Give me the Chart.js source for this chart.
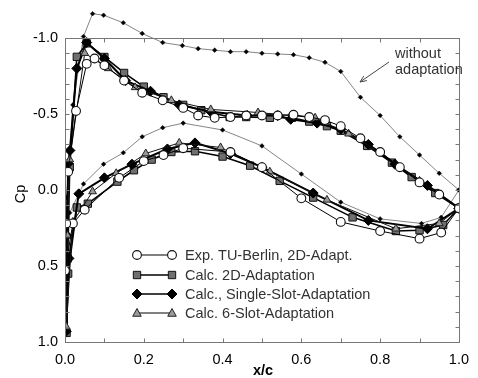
<!DOCTYPE html>
<html lang="en">
<head>
  <meta charset="UTF-8">
  <title>Cp distribution</title>
  <script src="https://cdn.jsdelivr.net/npm/chart.js"></script>
  <style>
    html, body { margin: 0; padding: 0; background: #fff; }
    #wrap { width: 478px; height: 378px; }
  </style>
</head>
<body>
<div id="wrap"><canvas id="cpChart" width="478" height="378"></canvas></div>

<script>
  // x/c and Cp, going TE -> lower side -> LE -> upper side -> TE
  const woX  = [1.0, 0.955, 0.905, 0.80, 0.70, 0.60, 0.50, 0.40, 0.30, 0.248, 0.196, 0.148, 0.098, 0.047, 0.012, 0.001, 0.004, 0.02, 0.047, 0.07, 0.098, 0.148, 0.196, 0.248, 0.298, 0.338, 0.38, 0.42, 0.46, 0.50, 0.54, 0.58, 0.62, 0.66, 0.70, 0.75, 0.80, 0.85, 0.90, 0.95, 1.0];
  const woCp = [0.00, 0.18, 0.22, 0.19, 0.08, -0.105, -0.29, -0.395, -0.44, -0.41, -0.35, -0.245, -0.17, -0.04, 0.15, 0.55, 0.05, -0.56, -1.01, -1.16, -1.15, -1.10, -1.03, -0.97, -0.95, -0.93, -0.92, -0.91, -0.91, -0.90, -0.895, -0.89, -0.87, -0.84, -0.78, -0.61, -0.49, -0.35, -0.23, -0.11, 0.00];

  const expX  = [1.0, 0.955, 0.90, 0.80, 0.70, 0.60, 0.50, 0.42, 0.30, 0.25, 0.20, 0.1375, 0.05, 0.02, 0.0, 0.003, 0.008, 0.028, 0.055, 0.075, 0.10, 0.15, 0.196, 0.248, 0.30, 0.338, 0.38, 0.42, 0.46, 0.50, 0.54, 0.58, 0.62, 0.66, 0.70, 0.75, 0.80, 0.85, 0.90, 0.95, 1.0];
  const expCp = [0.12, 0.28, 0.32, 0.27, 0.21, 0.055, -0.15, -0.25, -0.275, -0.23, -0.19, -0.08, 0.13, 0.22, 0.53, 0.22, -0.12, -0.52, -0.83, -0.865, -0.82, -0.72, -0.64, -0.59, -0.54, -0.49, -0.475, -0.48, -0.49, -0.49, -0.49, -0.495, -0.48, -0.46, -0.42, -0.34, -0.25, -0.15, -0.05, 0.03, 0.12];

  const sqX  = [1.0, 0.96, 0.90, 0.84, 0.73, 0.63, 0.545, 0.47, 0.40, 0.33, 0.27, 0.22, 0.175, 0.133, 0.058, 0.03, 0.008, 0.004, 0.007, 0.012, 0.03, 0.055, 0.10, 0.15, 0.20, 0.25, 0.30, 0.346, 0.418, 0.46, 0.52, 0.576, 0.62, 0.665, 0.70, 0.767, 0.83, 0.88, 0.94, 1.0];
  const sqCp = [0.12, 0.23, 0.265, 0.27, 0.18, 0.05, -0.06, -0.16, -0.22, -0.255, -0.25, -0.20, -0.13, -0.055, 0.09, 0.115, 0.55, 0.94, 0.45, -0.15, -0.876, -0.965, -0.875, -0.77, -0.68, -0.61, -0.56, -0.525, -0.48, -0.48, -0.475, -0.475, -0.45, -0.42, -0.39, -0.29, -0.18, -0.085, 0.02, 0.12];

  const dmX  = [1.0, 0.92, 0.77, 0.63, 0.50, 0.42, 0.33, 0.26, 0.17, 0.10, 0.035, 0.01, 0.003, 0.005, 0.008, 0.0125, 0.03, 0.055, 0.10, 0.154, 0.217, 0.29, 0.37, 0.4625, 0.54, 0.573, 0.64, 0.70, 0.77, 0.8375, 0.92, 1.0];
  const dmCp = [0.12, 0.255, 0.20, 0.02, -0.15, -0.24, -0.31, -0.27, -0.17, -0.08, 0.025, 0.45, 0.93, 0.3, -0.175, -0.26, -0.80, -0.97, -0.865, -0.72, -0.65, -0.56, -0.515, -0.49, -0.49, -0.465, -0.44, -0.40, -0.30, -0.17, -0.03, 0.12];

  const trX  = [1.0, 0.95, 0.84, 0.665, 0.52, 0.395, 0.29, 0.205, 0.13, 0.07, 0.02, 0.003, 0.006, 0.012, 0.05, 0.11, 0.178, 0.27, 0.37, 0.49, 0.635, 0.72, 0.80, 0.90, 1.0];
  const trCp = [0.12, 0.22, 0.255, 0.065, -0.12, -0.28, -0.31, -0.24, -0.11, 0.01, 0.21, 0.90, 0.3, -0.2, -0.90, -0.80, -0.675, -0.59, -0.53, -0.51, -0.475, -0.37, -0.25, -0.06, 0.12];

  const xTicks = [0, 0.2, 0.4, 0.6, 0.8, 1.0];
  const yTicks = [-1.0, -0.5, 0.0, 0.5, 1.0];

  const legendLabels = ['Exp. TU-Berlin, 2D-Adapt.', 'Calc. 2D-Adaptation', 'Calc., Single-Slot-Adaptation', 'Calc. 6-Slot-Adaptation'];
  const noteLines = ['without', 'adaptation'];

  const FONT = '"Liberation Sans", Arial, Helvetica, sans-serif';

  function pts(xs, ys) {
    return xs.map((x, i) => ({ x: x, y: ys[i] }));
  }

  // marker drawing for the legend
  function marker(ctx, style, x, y, r, fill, stroke, bw) {
    ctx.save();
    ctx.fillStyle = fill;
    ctx.strokeStyle = stroke;
    ctx.lineWidth = bw;
    ctx.beginPath();
    if (style === 'circle') {
      ctx.arc(x, y, r, 0, Math.PI * 2);
    } else if (style === 'rect') {
      const s = Math.SQRT1_2 * r;
      ctx.rect(x - s, y - s, 2 * s, 2 * s);
    } else if (style === 'rectRot') {
      ctx.moveTo(x - r, y); ctx.lineTo(x, y - r); ctx.lineTo(x + r, y); ctx.lineTo(x, y + r); ctx.closePath();
    } else if (style === 'triangle') {
      const h = r * 1.5;
      ctx.moveTo(x - r * 0.95, y + h / 3 + 1);
      ctx.lineTo(x, y - 2 * h / 3);
      ctx.lineTo(x + r * 0.95, y + h / 3 + 1);
      ctx.closePath();
    }
    ctx.fill();
    if (bw > 0) ctx.stroke();
    ctx.restore();
  }

  const series = [
    { label: legendLabels[0], data: pts(expX, expCp), borderColor: '#000', borderWidth: 1, pointStyle: 'circle', pointRadius: 4.4, pointBackgroundColor: '#fff', pointBorderColor: '#111', pointBorderWidth: 1.1 },
    { label: legendLabels[3], data: pts(trX, trCp), borderColor: '#111', borderWidth: 1, pointStyle: 'triangle', pointRadius: 4.5, pointBackgroundColor: '#9a9a9a', pointBorderColor: '#222', pointBorderWidth: 1 },
    { label: legendLabels[2], data: pts(dmX, dmCp), borderColor: '#000', borderWidth: 2, pointStyle: 'rectRot', pointRadius: 5, pointBackgroundColor: '#000', pointBorderColor: '#000', pointBorderWidth: 1 },
    { label: legendLabels[1], data: pts(sqX, sqCp), borderColor: '#000', borderWidth: 1.6, pointStyle: 'rect', pointRadius: 5.2, pointBackgroundColor: '#6f6f6f', pointBorderColor: '#111', pointBorderWidth: 1 },
    { label: 'without adaptation', data: pts(woX, woCp), borderColor: '#666', borderWidth: 0.8, pointStyle: 'rectRot', pointRadius: 2.3, pointBackgroundColor: '#000', pointBorderColor: '#000', pointBorderWidth: 0.5 }
  ].map(d => Object.assign(d, { showLine: true, tension: 0, fill: false }));

  const framePlugin = {
    id: 'frame',
    afterDraw(chart) {
      const ctx = chart.ctx;
      const a = chart.chartArea;
      const xs = chart.scales.x, ys = chart.scales.y;
      const top = Math.round(ys.getPixelForValue(-1)) + 0.5;
      const bot = Math.round(ys.getPixelForValue(1)) + 0.5;
      const left = Math.round(a.left) + 0.5;
      const right = Math.round(a.right) + 0.5;
      ctx.save();
      ctx.strokeStyle = '#777';
      ctx.lineWidth = 1;
      ctx.strokeRect(left, top, right - left, bot - top);
      ctx.beginPath();
      for (let i = 1; i < 10; i++) {
        const px = Math.round(xs.getPixelForValue(i / 10)) + 0.5;
        ctx.moveTo(px, bot); ctx.lineTo(px, bot - 4);
        ctx.moveTo(px, top); ctx.lineTo(px, top + 4);
      }
      for (let i = -9; i < 10; i++) {
        const py = Math.round(ys.getPixelForValue(i / 10)) + 0.5;
        ctx.moveTo(left, py); ctx.lineTo(left + 4, py);
        ctx.moveTo(right, py); ctx.lineTo(right - 4, py);
      }
      ctx.stroke();

      // axis titles
      ctx.fillStyle = '#000';
      ctx.font = 'bold 14.5px ' + FONT;
      ctx.textAlign = 'center';
      ctx.textBaseline = 'middle';
      ctx.fillText('x/c', 263, 371);
      ctx.save();
      ctx.translate(21, 194);
      ctx.rotate(-Math.PI / 2);
      ctx.font = '14.5px ' + FONT;
      ctx.fillText('Cp', 0, 0);
      ctx.restore();

      // legend: line with a marker at each end
      const rows = [255, 275, 294, 313];
      const order = [0, 3, 2, 1];
      rows.forEach((ry, k) => {
        const d = chart.data.datasets[order[k]];
        ctx.strokeStyle = '#000';
        ctx.lineWidth = Math.max(1, d.borderWidth * 0.8);
        ctx.beginPath(); ctx.moveTo(137, ry); ctx.lineTo(172, ry); ctx.stroke();
        [137, 172].forEach(mx => marker(ctx, d.pointStyle, mx, ry, d.pointRadius, d.pointBackgroundColor, d.pointBorderColor, d.pointBorderWidth));
        ctx.fillStyle = '#333';
        ctx.font = '14.5px ' + FONT;
        ctx.textAlign = 'left';
        ctx.fillText(legendLabels[k], 185, ry + 1);
      });

      // note with arrow
      ctx.fillStyle = '#333';
      ctx.fillText(noteLines[0], 395, 54);
      ctx.fillText(noteLines[1], 395, 70);
      ctx.strokeStyle = '#444';
      ctx.lineWidth = 1;
      ctx.beginPath(); ctx.moveTo(389, 62); ctx.lineTo(360, 82); ctx.stroke();
      const ang = Math.atan2(82 - 62, 360 - 389);
      ctx.beginPath();
      ctx.moveTo(360 - 7 * Math.cos(ang - 0.4), 82 - 7 * Math.sin(ang - 0.4));
      ctx.lineTo(360, 82);
      ctx.lineTo(360 - 7 * Math.cos(ang + 0.4), 82 - 7 * Math.sin(ang + 0.4));
      ctx.stroke();
      ctx.restore();
    }
  };

  const ctx = document.getElementById('cpChart').getContext('2d');
  new Chart(ctx, {
    type: 'scatter',
    data: { datasets: series },
    options: {
      responsive: false,
      animation: false,
      // y runs to -1.2 so the "without adaptation" peak above the frame is drawn
      layout: { padding: { top: 7.6, right: 13, left: 0, bottom: 0 } },
      plugins: { legend: { display: false }, tooltip: { enabled: false } },
      scales: {
        x: {
          type: 'linear', min: 0, max: 1,
          grid: { display: false, drawTicks: false },
          border: { display: false },
          ticks: { padding: 9, color: '#000', font: { size: 14.5, family: FONT }, callback: v => v.toFixed(1) },
          afterBuildTicks: s => { s.ticks = xTicks.map(v => ({ value: v })); },
          afterFit: s => { s.height = 36; }
        },
        y: {
          type: 'linear', min: -1.2, max: 1, reverse: true,
          grid: { display: false, drawTicks: false },
          border: { display: false },
          ticks: { padding: 7, color: '#000', font: { size: 14.5, family: FONT }, callback: v => v.toFixed(1) },
          afterBuildTicks: s => { s.ticks = yTicks.map(v => ({ value: v })); },
          afterFit: s => { s.width = 65; s.paddingTop = 0; s.paddingBottom = 0; }
        }
      }
    },
    plugins: [framePlugin]
  });
</script>
</body>
</html>
